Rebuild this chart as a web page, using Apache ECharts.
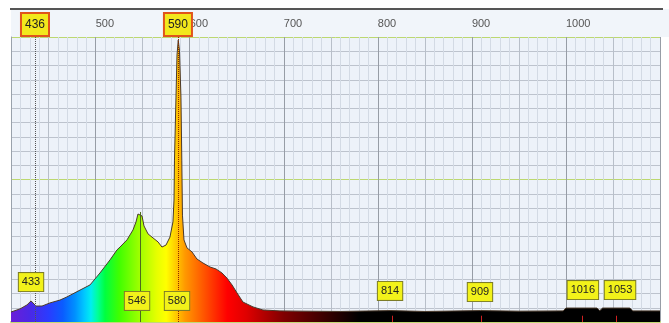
<!DOCTYPE html>
<html><head><meta charset="utf-8">
<script src="https://cdn.jsdelivr.net/npm/echarts@6/dist/echarts.min.js"></script>
<style>html,body{margin:0;padding:0;background:#fff}#c{width:669px;height:323px}</style>
</head><body><div id="c"></div>
<script>
// ---- data ----
const wavelength = [410,419.6,427,431.3,433.4,436.6,443,451.5,462.1,469.5,483.4,494,504.6,515.3,522.7,525.9,533.3,539.7,542.9,545,547.1,549.3,551.4,555.7,561,566.3,570.5,574.8,579,582.2,583.3,583.8,585.4,586.5,587.8,589.1,590.7,591.6,592.3,593.9,597.1,602.4,607.7,614.1,621.6,628,634.3,639.6,645,650.3,656.6,667.3,677.9,696,720,760,814,850,909,950,997,1000,1033,1036,1039,1068,1071,1100];
const intensity = [3.5,4.6,6.0,7.4,7.4,5.6,5.6,6.7,7.7,8.8,11.2,13.0,17.2,21.8,25.3,26.3,28.8,32.3,35.1,37.9,38.6,37.2,33.7,30.9,29.5,28.1,26.3,27.0,29.8,35.1,42.8,56.8,78.9,93.7,98.9,95.4,78.9,56.8,37.5,28.8,26.0,24.6,22.1,20.7,19.3,18.6,17.2,15.4,13.0,10.2,7.0,5.3,4.2,3.9,3.8,3.7,4.0,3.7,4.0,3.8,3.9,4.9,4.9,4.0,4.9,4.9,3.9,3.9];
const topMarkerNm = [435.5, 587.5];
const topMarkerText = ['436', '590'];
const peakLineNm = 547;
const peakLineLevel = 38.6;
const labelNm = [431.3, 544, 586.5, 813, 908.6, 1018, 1057.5];
const labelLevel = [14.0, 7.4, 7.4, 10.9, 10.5, 11.2, 11.2];
const labelText = ['433', '546', '580', '814', '909', '1016', '1053'];
const redTickNm = [815, 909.5, 1017, 1054];
const xMin = 410, xMax = 1100;
const axisLabelValues = [500, 600, 700, 800, 900, 1000];

// spectrum colours by wavelength
const specNm =    [410,      430,      450,      465,      478,      488,      495,      502,      510,      525,      546,      565,      575,      585,      595,      610,      625,      640,      660,      680,      700,      730,      760,      780,      1100];
const specColor = ['#6a1ed8','#4b28e6','#2a3cff','#0a5cff','#0090ff','#00c8ff','#00eef0','#00ff9a','#00ff40','#40ff00','#9cff00','#e6ff00','#ffff00','#ffcc00','#ff9900','#ff6600','#ff3300','#ff0000','#e00000','#b00000','#800000','#500000','#200000','#000000','#000000'];

const FONT = '"Liberation Sans Narrow","Liberation Sans",Arial,sans-serif';
const chart = echarts.init(document.getElementById('c'), null, {renderer: 'canvas'});

const xSplitColors = [];
for (let v = xMin; v <= xMax; v += 10) {
  xSplitColors.push(v % 100 === 0 ? '#979da6' : (v % 50 === 0 ? '#b8bfc9' : '#d3dae4'));
}
const ySplitColors = [];
for (let v = 0; v <= 100; v += 5) {
  ySplitColors.push(v % 50 === 0 && v > 0 ? '#bcd870' : '#bdc3cd');
}

const stops = specNm.map((nm, i) => ({offset: (nm - xMin) / (xMax - xMin), color: specColor[i]}));

const yellowBox = {
  show: true, position: 'inside', color: '#222', fontFamily: FONT, fontSize: 11, opacity: 1,
  backgroundColor: '#f2f21a', borderColor: '#7c7c28', borderWidth: 1, padding: [4, 3, 3, 3]
};

const markLineData = [];
topMarkerNm.forEach((nm, i) => {
  markLineData.push({
    xAxis: nm,
    lineStyle: {color: i === 0 ? '#555' : '#8b2a00', type: 'dotted', width: 1},
    label: {show: true, position: 'end', distance: 2, formatter: topMarkerText[i],
      color: '#222', fontFamily: FONT, fontSize: 12,
      backgroundColor: '#f2e81c', borderColor: '#e0541c', borderWidth: 2, padding: [5, 3, 4, 3]}
  });
});
markLineData.push([
  {coord: [peakLineNm, 0], lineStyle: {color: '#4f6a1c', width: 1, type: 'solid'}, label: {show: false}},
  {coord: [peakLineNm, peakLineLevel]}
]);
redTickNm.forEach(nm => {
  markLineData.push([
    {coord: [nm, 0], lineStyle: {color: '#d02020', width: 1, type: 'solid'}, label: {show: false}},
    {coord: [nm, 2.2]}
  ]);
});

chart.setOption({
  animation: false,
  backgroundColor: '#ffffff',
  graphic: [
    {type: 'rect', z: -1, shape: {x: 11, y: 9, width: 658, height: 28}, style: {fill: '#f1f5fa'}},
    {type: 'line', z: 1, shape: {x1: 10, y1: 9, x2: 663, y2: 9}, style: {stroke: '#555', lineWidth: 2}}
  ],
  grid: {left: 11, right: 9, top: 37, bottom: 1, show: true, backgroundColor: '#edf2f9', borderWidth: 0},
  xAxis: {
    type: 'value', position: 'top', min: xMin, max: xMax, interval: 10,
    axisLine: {show: true, lineStyle: {color: '#c2da74', width: 2}},
    axisTick: {show: false},
    axisLabel: {
      show: true, align: 'left', margin: 8, color: '#555', fontSize: 11, fontFamily: FONT,
      formatter: v => axisLabelValues.indexOf(v) >= 0 ? String(v) : ''
    },
    splitLine: {show: true, lineStyle: {color: xSplitColors, width: 1}}
  },
  yAxis: {
    type: 'value', min: 0, max: 100, interval: 5,
    axisLine: {show: true, lineStyle: {color: '#9aa2ac', width: 1}},
    axisTick: {show: false}, axisLabel: {show: false},
    splitLine: {show: true, lineStyle: {color: ySplitColors, width: 1}}
  },
  series: [
    {
      type: 'line', z: 3, symbol: 'none', silent: true,
      data: wavelength.map((w, i) => [w, intensity[i]]),
      lineStyle: {color: '#4b3a2a', width: 1},
      areaStyle: {opacity: 1, color: new echarts.graphic.LinearGradient(0, 0, 1, 0, stops)},
      markLine: {silent: true, symbol: 'none', animation: false, data: markLineData, z: 6}
    },
    {
      type: 'scatter', z: 8, silent: true, symbolSize: 1,
      itemStyle: {color: 'rgba(0,0,0,0)', opacity: 1},
      data: labelNm.map((nm, i) => [nm, labelLevel[i], labelText[i]]),
      label: Object.assign({}, yellowBox, {formatter: p => p.data[2]})
    }
  ]
});
</script></body></html>
